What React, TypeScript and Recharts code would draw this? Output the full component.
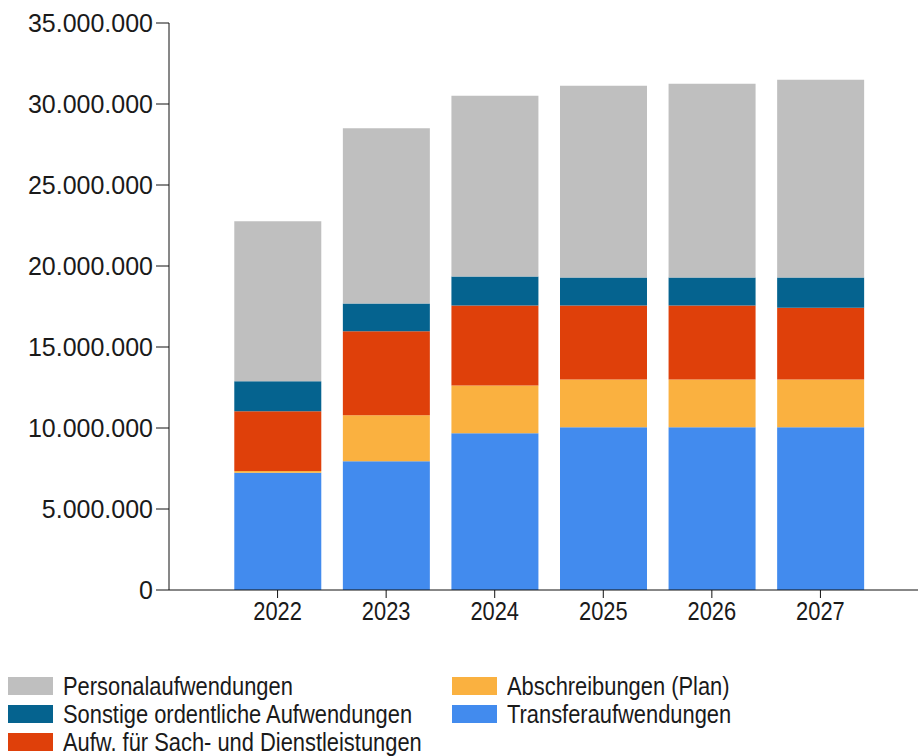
import React from 'react';
import { BarChart, Bar, XAxis, YAxis, Legend } from 'recharts';

const years = [2022, 2023, 2024, 2025, 2026, 2027];
const transfer = [7240000, 7940000, 9670000, 10040000, 10040000, 10040000];
const abschreibungen = [100000, 2840000, 2950000, 2950000, 2950000, 2950000];
const sach = [3700000, 5190000, 4940000, 4570000, 4570000, 4430000];
const sonstige = [1850000, 1720000, 1790000, 1730000, 1730000, 1870000];
const personal = [9880000, 10820000, 11160000, 11840000, 11960000, 12210000];
const yTicks = [0, 5000000, 10000000, 15000000, 20000000, 25000000, 30000000, 35000000];

const data = years.map((year, i) => ({
  year,
  transfer: transfer[i],
  abschreibungen: abschreibungen[i],
  sach: sach[i],
  sonstige: sonstige[i],
  personal: personal[i],
}));

// bottom to top stacking order
const series = [
  { key: 'transfer', name: 'Transferaufwendungen', color: '#428BEE' },
  { key: 'abschreibungen', name: 'Abschreibungen (Plan)', color: '#FAB140' },
  { key: 'sach', name: 'Aufw. für Sach- und Dienstleistungen', color: '#DF400A' },
  { key: 'sonstige', name: 'Sonstige ordentliche Aufwendungen', color: '#05638F' },
  { key: 'personal', name: 'Personalaufwendungen', color: '#BFBFBF' },
];

const sans = "'Liberation Sans', Arial, sans-serif";
const squeeze = 0.875; // the original uses a condensed face for x labels and legend

const formatDe = (v: number) => String(v).replace(/\B(?=(\d{3})+(?!\d))/g, '.');

const YearTick = (props: any) => {
  const { x, y, payload } = props;
  return (
    <g transform={`translate(${x},${y})`}>
      <text
        x={0}
        y={0}
        dy="0.72em"
        textAnchor="middle"
        transform={`scale(${squeeze},1)`}
        fill="#1a1a1a"
        fontSize={25}
        fontFamily={sans}
      >
        {payload.value}
      </text>
    </g>
  );
};

const LegendBox = () => {
  const items = [...series].reverse();
  return (
    <div
      style={{
        display: 'grid',
        gridAutoFlow: 'column',
        gridTemplateRows: 'repeat(3, 28px)',
        gridTemplateColumns: '444px 444px',
        fontFamily: sans,
        fontSize: 25,
        color: '#1a1a1a',
      }}
    >
      {items.map(s => (
        <div key={s.key} style={{ display: 'flex', alignItems: 'center', height: 28 }}>
          <span style={{ width: 45, height: 18, background: s.color, marginRight: 10, flexShrink: 0 }} />
          <span
            style={{
              display: 'inline-block',
              whiteSpace: 'nowrap',
              lineHeight: '28px',
              transform: `scaleX(${squeeze})`,
              transformOrigin: '0 50%',
            }}
          >
            {s.name}
          </span>
        </div>
      ))}
    </div>
  );
};

export default function App() {
  return (
    <div style={{ position: 'absolute', left: 0, top: 0, width: 918, height: 756, overflow: 'hidden', background: '#fff' }}>
      <BarChart
        width={940}
        height={756}
        data={data}
        margin={{ top: 23, right: 11, left: 0, bottom: 126 }}
      >
        <XAxis
          dataKey="year"
          type="number"
          domain={[2021, 2028]}
          ticks={years}
          height={40}
          tickSize={8}
          tickMargin={4}
          stroke="#111"
          tick={<YearTick />}
          allowDecimals={false}
        />
        <YAxis
          width={169}
          domain={[0, 35000000]}
          ticks={yTicks}
          tickSize={13}
          tickMargin={3}
          stroke="#111"
          tickFormatter={formatDe}
          tick={{ fill: '#1a1a1a', fontSize: 25, fontFamily: sans }}
        />
        <Legend
          layout="vertical"
          align="center"
          verticalAlign="middle"
          wrapperStyle={{ top: 672, left: 8, width: 900 }}
          content={() => <LegendBox />}
        />
        {series.map(s => (
          <Bar
            key={s.key}
            dataKey={s.key}
            name={s.name}
            stackId="a"
            fill={s.color}
            barSize={87}
            isAnimationActive={false}
          />
        ))}
      </BarChart>
    </div>
  );
}
